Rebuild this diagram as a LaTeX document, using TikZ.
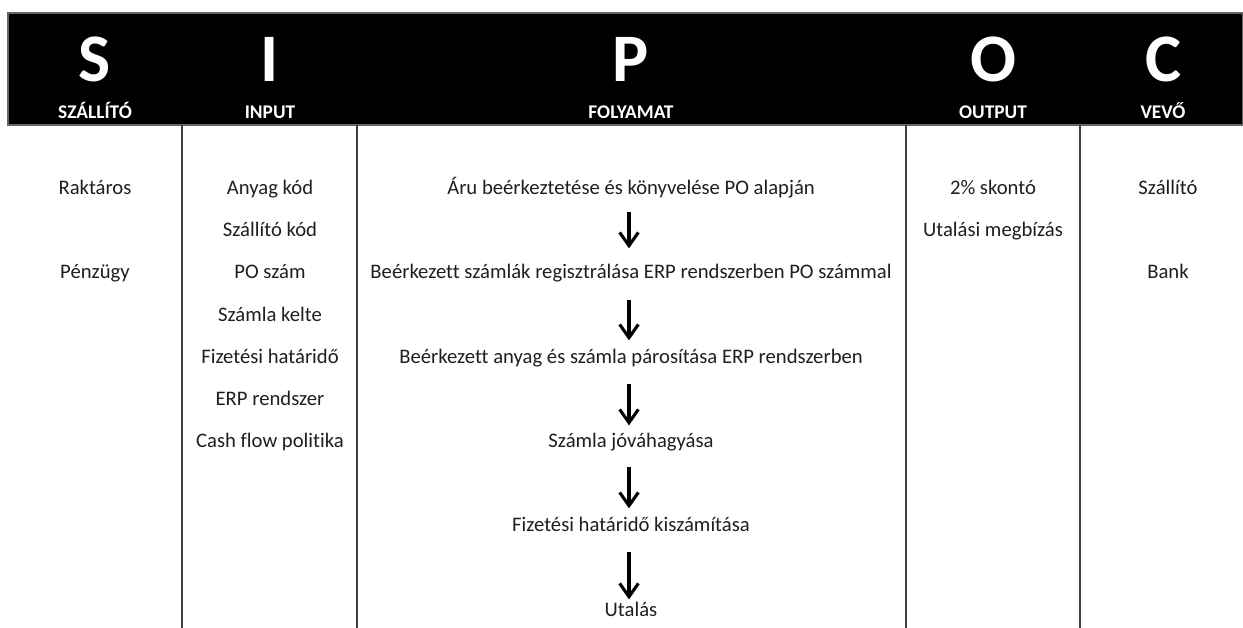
\documentclass[tikz,border=0pt]{standalone}
\usepackage{fontspec}
\setmainfont{Carlito}[Ligatures=NoCommon]
\usetikzlibrary{arrows.meta}
\tikzset{
  big/.style={text=white,font=\bfseries\fontsize{51}{51}\selectfont,inner sep=0pt},
  hdr/.style={text=white,font=\bfseries\fontsize{14.5}{14.5}\selectfont,inner sep=0pt,anchor=base},
  cell/.style={text=black!88,font=\fontsize{15.5}{15.5}\selectfont,inner sep=0pt,text height=10.5pt,text depth=3.5pt,yshift=-1.5pt},
  sep/.style={draw=black!75,line width=1.5pt},
  flow/.style={line width=2.5pt,-{Straight Barb[length=10pt,width=14pt,line width=2.3pt]}}
}
\begin{document}
\begin{tikzpicture}[x=0.75pt,y=-0.75pt]
\useasboundingbox (0,0) rectangle (1243,628);
\fill[white] (0,0) rectangle (1243,628);
\filldraw[fill=black,draw=black!60,line width=0.8pt] (8,13) rectangle (1243,125);
% separators
\coordinate (s1t) at (182,125); \coordinate (s1b) at (182,628);
\coordinate (s2t) at (357,125); \coordinate (s2b) at (357,628);
\coordinate (s3t) at (906,125); \coordinate (s3b) at (906,628);
\coordinate (s4t) at (1080,125); \coordinate (s4b) at (1080,628);
\draw[sep] (s1t) -- (s1b);
\draw[sep] (s2t) -- (s2b);
\draw[sep] (s3t) -- (s3b);
\draw[sep] (s4t) -- (s4b);
% headers
\node[big] (hS) at (95,59) {S};
\node[big] (hI) at (270,59) {I};
\node[big] (hP) at (631,59) {P};
\node[big] (hO) at (993,59) {O};
\node[big] (hC) at (1163,59) {C};
\node[hdr] (tS) at (95,118) {SZÁLLÍTÓ};
\node[hdr] (tI) at (270,118) {INPUT};
\node[hdr] (tP) at (631,118) {FOLYAMAT};
\node[hdr] (tO) at (993,118) {OUTPUT};
\node[hdr] (tC) at (1163,118) {VEVŐ};
% S column
\node[cell] (s1) at (95,188) {Raktáros};
\node[cell] (s2) at (95,272) {Pénzügy};
% I column
\node[cell] (i1) at (270,188) {Anyag kód};
\node[cell] (i2) at (270,230) {Szállító kód};
\node[cell] (i3) at (270,272) {PO szám};
\node[cell] (i4) at (270,315) {Számla kelte};
\node[cell] (i5) at (270,357) {Fizetési határidő};
\node[cell] (i6) at (270,399) {ERP rendszer};
\node[cell] (i7) at (270,441) {Cash flow politika};
% P column
\node[cell] (p1) at (631,188) {Áru beérkeztetése és könyvelése PO alapján};
\node[cell] (p2) at (631,272) {Beérkezett számlák regisztrálása ERP rendszerben PO számmal};
\node[cell] (p3) at (631,357) {Beérkezett anyag és számla párosítása ERP rendszerben};
\node[cell] (p4) at (631,441) {Számla jóváhagyása};
\node[cell] (p5) at (631,525) {Fizetési határidő kiszámítása};
\node[cell] (p6) at (631,610) {Utalás};
% O column
\node[cell] (o1) at (993,188) {2\% skontó};
\node[cell] (o2) at (993,230) {Utalási megbízás};
% C column
\node[cell] (c1) at (1168,188) {Szállító};
\node[cell] (c2) at (1168,272) {Bank};
% arrows
\draw[flow,shorten <=9pt,shorten >=12pt] ([xshift=-1.5pt]p1.south) -- ([xshift=-1.5pt]p2.north);
\draw[flow,shorten <=12pt,shorten >=6.75pt] ([xshift=-1.5pt]p2.south) -- ([xshift=-1.5pt]p3.north);
\draw[flow,shorten <=11.25pt,shorten >=6pt] ([xshift=-1.5pt]p3.south) -- ([xshift=-1.5pt]p4.north);
\draw[flow,shorten <=10.5pt,shorten >=6.75pt] ([xshift=-1.5pt]p4.south) -- ([xshift=-1.5pt]p5.north);
\draw[flow,shorten <=11.25pt,shorten >=2.25pt] ([xshift=-1.5pt]p5.south) -- ([xshift=-1.5pt]p6.north);
\end{tikzpicture}
\end{document}
